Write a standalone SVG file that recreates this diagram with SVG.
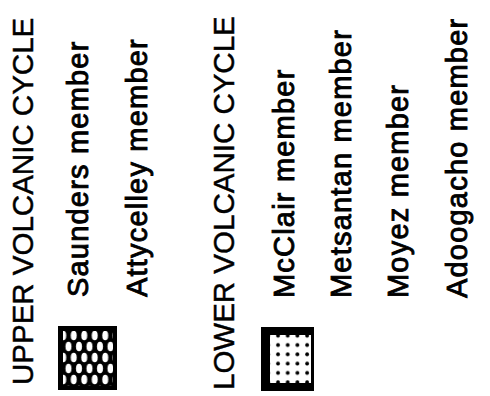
<svg xmlns="http://www.w3.org/2000/svg" width="490" height="396" viewBox="0 0 490 396">
<style>
.h{font-family:"Liberation Sans",Arial,sans-serif;font-size:29.5px;fill:#000;stroke:#000;stroke-width:0.45px}
.m{font-family:"Liberation Sans",Arial,sans-serif;font-size:29px;letter-spacing:1.2px;fill:#000;stroke:#000;stroke-width:0.9px}
</style>
<defs>
<pattern id="lens" x="58" y="330" width="10.5" height="22" patternUnits="userSpaceOnUse">
<rect width="10.5" height="22" fill="#000"/>
<ellipse cx="5.25" cy="5.5" rx="3" ry="4.8" fill="#fff"/>
<ellipse cx="0" cy="16.5" rx="3" ry="4.8" fill="#fff"/>
<ellipse cx="10.5" cy="16.5" rx="3" ry="4.8" fill="#fff"/>
</pattern>
<pattern id="dots" x="273" y="340" width="9.7" height="9.3" patternUnits="userSpaceOnUse">
<rect width="9.7" height="9.3" fill="#fff"/>
<circle cx="5" cy="5" r="1.9" fill="#000"/>
</pattern>
</defs>
<rect width="490" height="396" fill="#fff"/>
<g id="heading-upper"><text class="h" transform="translate(33,385) rotate(-90)">UPPER VOLCANIC CYCLE</text></g>
<g id="heading-lower"><text class="h" transform="translate(234,390) rotate(-90)">LOWER VOLCANIC CYCLE</text></g>
<g id="swatch-upper">
<rect x="58" y="326" width="59" height="64" fill="#000"/>
<rect x="63" y="331" width="50" height="55" fill="url(#lens)"/>
</g>
<g id="swatch-lower">
<rect x="261" y="327" width="53" height="64" fill="#000"/>
<rect x="270" y="335" width="41" height="48" fill="url(#dots)"/>
</g>
<g id="saunders"><text class="m" transform="translate(88,297) rotate(-90)">Saunders member</text></g>
<g id="attycelley"><text class="m" transform="translate(147,297) rotate(-90)">Attycelley member</text></g>
<g id="mcclair"><text class="m" transform="translate(294,298) rotate(-90)">McClair member</text></g>
<g id="metsantan"><text class="m" transform="translate(351,298) rotate(-90)">Metsantan member</text></g>
<g id="moyez"><text class="m" transform="translate(408,298) rotate(-90)">Moyez member</text></g>
<g id="adoogacho"><text class="m" transform="translate(467,298) rotate(-90)">Adoogacho member</text></g>
</svg>
